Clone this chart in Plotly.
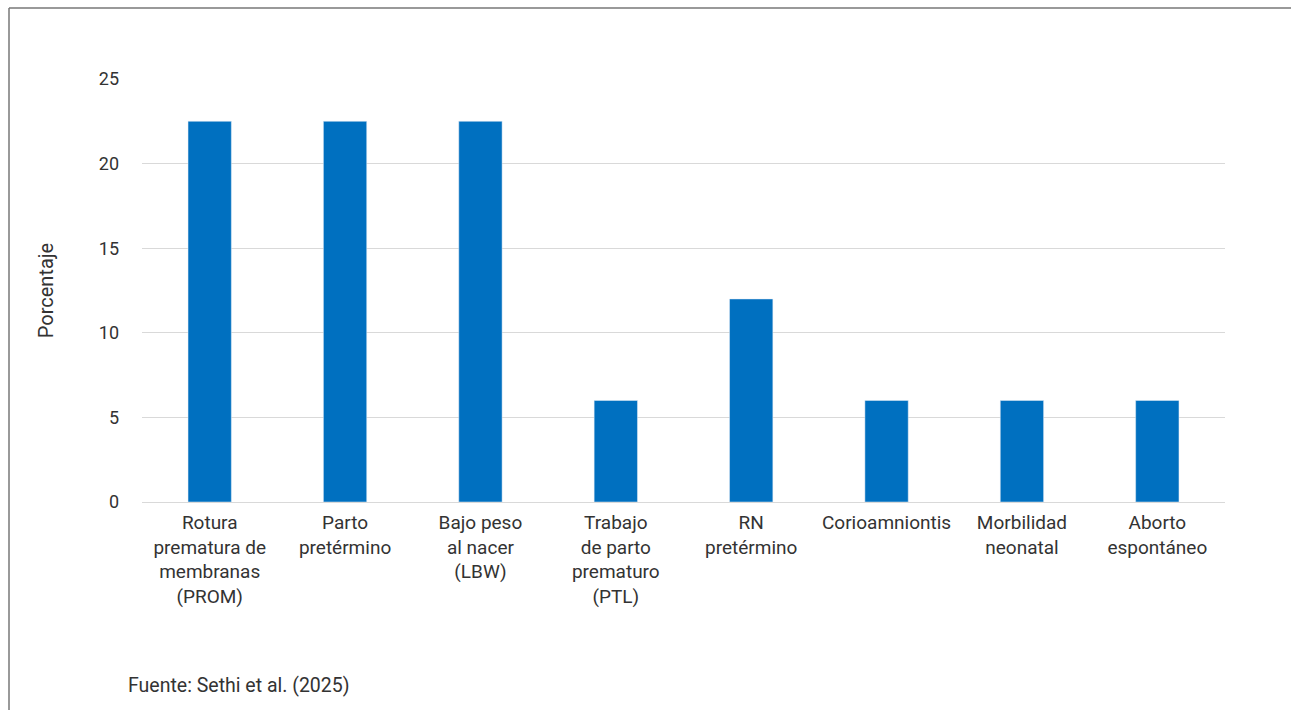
import plotly.graph_objects as go

categories = [
    "Rotura<br>prematura de<br>membranas<br>(PROM)",
    "Parto<br>pretérmino",
    "Bajo peso<br>al nacer<br>(LBW)",
    "Trabajo<br>de parto<br>prematuro<br>(PTL)",
    "RN<br>pretérmino",
    "Corioamniontis",
    "Morbilidad<br>neonatal",
    "Aborto<br>espontáneo",
]
values = [22.5, 22.5, 22.5, 6, 12, 6, 6, 6]
y_ticks = [0, 5, 10, 15, 20, 25]

L, R, T, B = 142, 66, 79, 208
W, H = 1291, 710
pw, ph = W - L - R, H - T - B

def px(x):
    return (x - L) / pw

def py(y):
    return (H - B - y) / ph

fig = go.Figure(go.Bar(x=categories, y=values, marker_color="#0070C0", width=0.32))

fam = "Roboto, Noto Sans, sans-serif"
font = dict(family=fam, size=19, color="#333333")

fig.update_layout(
    width=W, height=H,
    margin=dict(l=L, r=R, t=T, b=B),
    paper_bgcolor="white", plot_bgcolor="white",
    font=font,
    showlegend=False,
    xaxis=dict(showgrid=False, showline=True, linecolor="#d9d9d9", linewidth=1,
               ticks="", tickfont=font, ticklabelstandoff=3),
    yaxis=dict(range=[0, 25], tickvals=y_ticks, showgrid=True, gridcolor="#d9d9d9",
               gridwidth=1, zeroline=False, ticks="", ticklabelstandoff=22,
               tickfont=dict(family=fam, size=18, color="#333333"),
               title=dict(text="Porcentaje", font=dict(family=fam, size=20, color="#333333"),
                          standoff=39)),
    shapes=[
        dict(type="line", xref="paper", yref="paper", x0=px(9), x1=px(W + 5),
             y0=py(8), y1=py(8), line=dict(color="#777777", width=1.5)),
        dict(type="line", xref="paper", yref="paper", x0=px(9), x1=px(9),
             y0=py(8), y1=py(H + 5), line=dict(color="#777777", width=1.5)),
    ],
    annotations=[
        dict(text="Fuente: Sethi et al. (2025)", xref="paper", yref="paper",
             x=px(126), y=py(685), xanchor="left", yanchor="middle",
             showarrow=False, font=dict(family=fam, size=19.5, color="#333333")),
    ],
)

fig.write_html("out.html")
